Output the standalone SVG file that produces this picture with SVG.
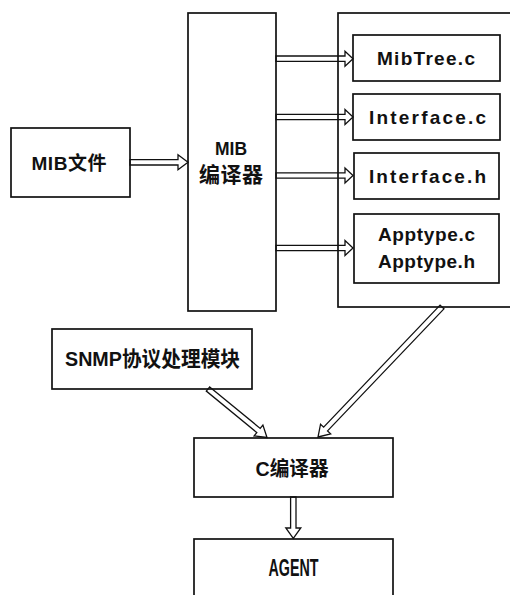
<svg xmlns="http://www.w3.org/2000/svg" width="510" height="595" viewBox="0 0 510 595">
  <style>
    .box { fill: #ffffff; stroke: #111111; stroke-width: 1.7; }
    .frame { fill: none; stroke: #111111; stroke-width: 1.7; }
    .arrow { fill: none; stroke: #111111; stroke-width: 1.3; stroke-linejoin: miter; }
    .lbl { font-family: "Liberation Sans", "Noto Sans CJK SC", sans-serif; font-weight: bold; font-size: 19px; fill: #111111; text-anchor: middle; }
    .big { font-size: 21px; }
    .mid { font-size: 20px; }
    .tall { font-size: 23px; }
  </style>
  <rect width="510" height="595" fill="#ffffff"/>

  <g id="mib-file">
    <rect class="box" x="11" y="128" width="119" height="69"/>
    <text class="lbl" x="69" y="169.5" textLength="75" lengthAdjust="spacing">MIB文件</text>
  </g>

  <g id="mib-compiler">
    <rect class="box" x="188" y="13" width="88" height="298"/>
    <text class="lbl" x="231" y="155" textLength="32" lengthAdjust="spacingAndGlyphs">MIB</text>
    <text class="lbl big" x="231" y="182" textLength="64" lengthAdjust="spacing">编译器</text>
  </g>

  <g id="output-files">
    <rect class="frame" x="338" y="13" width="180" height="294"/>
    <g id="mibtree-c">
      <rect class="box" x="353" y="35" width="147" height="46"/>
      <text class="lbl" x="426" y="64.5" textLength="98" lengthAdjust="spacing">MibTree.c</text>
    </g>
    <g id="interface-c">
      <rect class="box" x="353" y="94" width="147" height="46"/>
      <text class="lbl" x="427.5" y="124" textLength="117" lengthAdjust="spacing">Interface.c</text>
    </g>
    <g id="interface-h">
      <rect class="box" x="354" y="153" width="145" height="46"/>
      <text class="lbl" x="427.5" y="182.5" textLength="117" lengthAdjust="spacing">Interface.h</text>
    </g>
    <g id="apptype">
      <rect class="box" x="354" y="214" width="145" height="69"/>
      <text class="lbl" x="426.5" y="241" textLength="97" lengthAdjust="spacing">Apptype.c</text>
      <text class="lbl" x="426.5" y="268" textLength="97" lengthAdjust="spacing">Apptype.h</text>
    </g>
  </g>

  <g id="snmp-module">
    <rect class="box" x="52" y="329" width="200" height="60"/>
    <text class="lbl big" x="152.5" y="366" textLength="175" lengthAdjust="spacingAndGlyphs">SNMP协议处理模块</text>
  </g>

  <g id="c-compiler">
    <rect class="box" x="194" y="438" width="199" height="59"/>
    <text class="lbl mid" x="292" y="475.5" textLength="73" lengthAdjust="spacingAndGlyphs">C编译器</text>
  </g>

  <g id="agent">
    <rect class="box" x="194" y="539" width="199" height="70"/>
    <text class="lbl tall" x="293.5" y="575.5" textLength="50" lengthAdjust="spacingAndGlyphs">AGENT</text>
  </g>

  <!-- hollow block arrows -->
  <g id="connectors">
    <polygon class="arrow" points="130,159.6 178,159.6 178,154.8 188,162.3 178,169.8 178,165 130,165"/>
    <polygon class="arrow" points="276,56 345,56 345,51.2 353,58.7 345,66.2 345,61.4 276,61.4"/>
    <polygon class="arrow" points="276,114.3 345,114.3 345,109.5 353,117 345,124.5 345,119.7 276,119.7"/>
    <polygon class="arrow" points="276,172.8 345,172.8 345,168 353,175.5 345,183 345,178.2 276,178.2"/>
    <polygon class="arrow" points="276,245.3 345,245.3 345,240.5 353,248 345,255.5 345,250.7 276,250.7"/>
    <polygon class="arrow" points="209.7,386.9 260.2,428.4 262.9,425.1 267,437.5 254.1,435.9 256.8,432.6 206.3,391.1"/>
    <polygon class="arrow" points="440.05,305.14 323.65,427.19 320.54,424.22 318,437 330.66,433.88 327.55,430.91 443.95,308.86"/>
    <polygon class="arrow" points="290.6,497 290.6,528 285.8,528 293.3,538.5 300.8,528 296,528 296,497"/>
  </g>
</svg>
